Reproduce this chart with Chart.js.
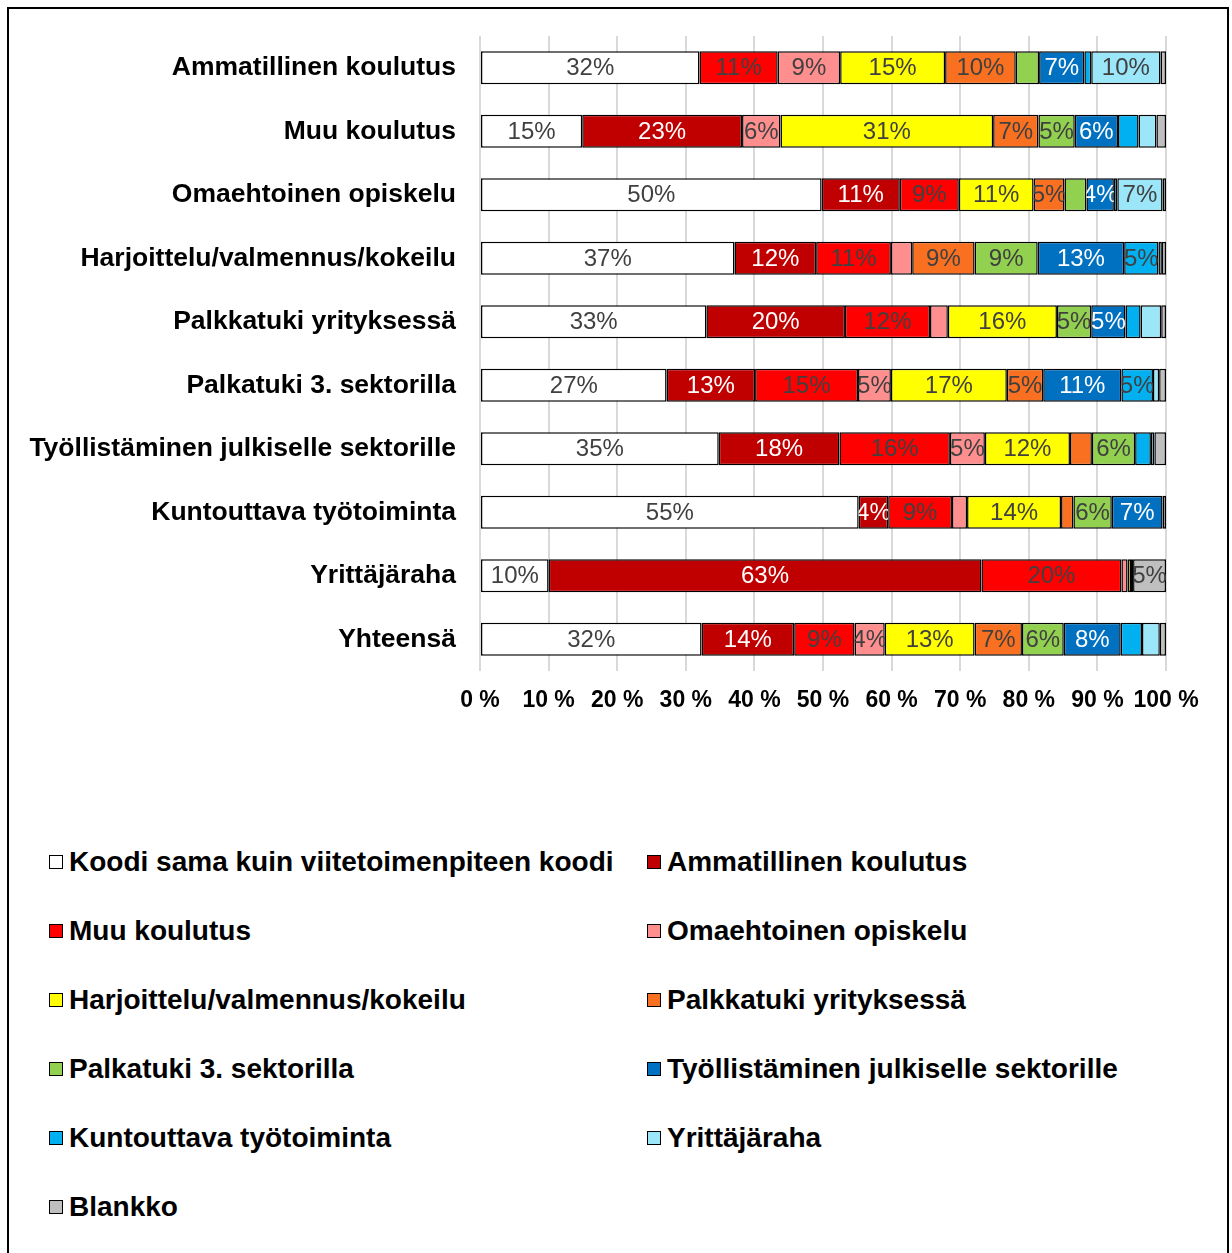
<!DOCTYPE html>
<html>
<head>
<meta charset="utf-8">
<script src="https://cdn.jsdelivr.net/npm/chart.js@4"></script>
<style>
    body { margin: 0; background: #fff; font-family: "Liberation Sans", Arial, sans-serif; }
    #frame { position: absolute; left: 7px; top: 7px; width: 1222px; height: 1270px; border: 2px solid #000; box-sizing: border-box; }
    #chartWrap { position: absolute; left: 0; top: 0; width: 1232px; height: 740px; }
    #legend { position: absolute; left: 0; top: 0; }
    .legend-item { position: absolute; height: 40px; line-height: 40px; font-weight: bold; font-size: 28px; color: #000; white-space: nowrap; }
    .legend-box { position: absolute; left: 0; top: 13px; width: 14px; height: 14px; border: 1.5px solid #000; box-sizing: border-box; }
    .legend-text { position: absolute; left: 20px; top: 0; }
</style>
</head>
<body>
<div id="frame"></div>
<div id="chartWrap"><canvas id="chart" width="1232" height="740"></canvas></div>
<div id="legend"></div>
<script>
// Categories (top to bottom)
const categories = [
    'Ammatillinen koulutus',
    'Muu koulutus',
    'Omaehtoinen opiskelu',
    'Harjoittelu/valmennus/kokeilu',
    'Palkkatuki yrityksessä',
    'Palkatuki 3. sektorilla',
    'Työllistäminen julkiselle sektorille',
    'Kuntouttava työtoiminta',
    'Yrittäjäraha',
    'Yhteensä'
];

const seriesNames = [
    'Koodi sama kuin viitetoimenpiteen koodi',
    'Ammatillinen koulutus',
    'Muu koulutus',
    'Omaehtoinen opiskelu',
    'Harjoittelu/valmennus/kokeilu',
    'Palkkatuki yrityksessä',
    'Palkatuki 3. sektorilla',
    'Työllistäminen julkiselle sektorille',
    'Kuntouttava työtoiminta',
    'Yrittäjäraha',
    'Blankko'
];

// Shares in percent, one value per category
const sameCode      = [32.0, 14.9, 49.8, 37.1, 33.0, 27.2, 34.8, 55.2, 10.0, 32.3];
const vocational    = [0,    23.3, 11.4, 11.9, 20.2, 12.9, 17.6, 4.3,  63.1, 13.5];
const otherTraining = [11.4, 0,    8.6,  10.9, 12.4, 15.0, 16.1, 9.3,  20.4, 8.8];
const selfStudy     = [9.1,  5.6,  0,    3.1,  2.6,  4.8,  5.1,  2.2,  0.9,  4.4];
const coaching      = [15.3, 31.0, 10.9, 0,    15.9, 16.9, 12.4, 13.7, 0.5,  13.1];
const wageCompany   = [10.3, 6.6,  4.5,  9.1,  0,    5.3,  3.2,  1.8,  0,    6.9];
const wageThird     = [3.4,  5.3,  3.2,  9.2,  5.0,  0,    6.3,  5.6,  0,    6.1];
const publicSector  = [6.6,  6.3,  4.0,  12.6, 5.0,  11.4, 0,    7.4,  0,    8.3];
const rehab         = [1.0,  3.0,  0.5,  5.0,  2.2,  4.6,  2.3,  0,    0,    3.1];
const startupGrant  = [10.1, 2.6,  6.6,  0.5,  3.0,  0.9,  0.5,  0,    0.3,  2.6];
const blank         = [0.8,  1.4,  0.5,  0.6,  0.7,  1.0,  1.7,  0.5,  4.8,  0.9];

const seriesValues = [sameCode, vocational, otherTraining, selfStudy, coaching,
    wageCompany, wageThird, publicSector, rehab, startupGrant, blank];

const colors = ['#FFFFFF', '#C00000', '#FF0000', '#FF8F8F', '#FFFF00', '#FA7021',
    '#92D050', '#0070C0', '#00B0F0', '#9CE6FA', '#BFBFBF'];
const labelColors = ['#404040', '#FFFFFF', '#404040', '#404040', '#404040', '#404040',
    '#404040', '#FFFFFF', '#404040', '#404040', '#404040'];

const FONT = '"Liberation Sans", Arial, sans-serif';

// Draw rounded percentages inside the segments, clipped to the segment like Excel
const segmentLabels = {
    id: 'segmentLabels',
    afterDatasetsDraw(chart) {
        const ctx = chart.ctx;
        ctx.save();
        ctx.font = '24px ' + FONT;
        ctx.textAlign = 'center';
        ctx.textBaseline = 'middle';
        chart.data.datasets.forEach((ds, i) => {
            const meta = chart.getDatasetMeta(i);
            meta.data.forEach((bar, j) => {
                const v = ds.data[j];
                if (v < 3.5) return;
                const x0 = Math.min(bar.base, bar.x);
                const w = Math.abs(bar.x - bar.base);
                ctx.save();
                ctx.beginPath();
                ctx.rect(x0, bar.y - bar.height / 2, w, bar.height);
                ctx.clip();
                ctx.fillStyle = labelColors[i];
                ctx.fillText(Math.round(v) + '%', x0 + w / 2, bar.y + 1);
                ctx.restore();
            });
        });
        ctx.restore();
    }
};

const chart = new Chart(document.getElementById('chart'), {
    type: 'bar',
    data: {
        labels: categories,
        datasets: seriesNames.map((name, i) => ({
            label: name,
            data: seriesValues[i],
            backgroundColor: colors[i],
            borderColor: '#000000',
            borderWidth: 1.5,
            borderSkipped: false,
            barPercentage: 0.52,
            categoryPercentage: 1
        }))
    },
    options: {
        indexAxis: 'y',
        responsive: false,
        devicePixelRatio: 1,
        animation: false,
        layout: { padding: { top: 36, right: 66, left: 0, bottom: 0 } },
        plugins: {
            legend: { display: false },
            tooltip: { enabled: false }
        },
        scales: {
            x: {
                stacked: true,
                min: 0,
                max: 100,
                ticks: {
                    stepSize: 10,
                    padding: 16,
                    maxRotation: 0,
                    minRotation: 0,
                    autoSkip: false,
                    color: '#000',
                    font: { family: FONT, size: 23, weight: 'bold' },
                    callback: v => v + ' %'
                },
                grid: { color: '#D9D9D9', lineWidth: 2, drawTicks: false },
                border: { display: false },
                afterFit: s => { s.height = 69; }
            },
            y: {
                stacked: true,
                ticks: {
                    padding: 24,
                    color: '#000',
                    font: { family: FONT, size: 26.5, weight: 'bold' }
                },
                grid: { display: false, drawTicks: false },
                border: { display: false },
                afterFit: s => {
                    s.width = 480;
                    s.paddingTop = 0;
                    s.paddingBottom = 0;
                }
            }
        }
    },
    plugins: [segmentLabels]
});

// Two-column legend below the chart
function buildLegend() {
    const legend = document.getElementById('legend');
    chart.data.datasets.forEach((ds, i) => {
        const col = i % 2;
        const row = Math.floor(i / 2);
        const item = document.createElement('div');
        item.className = 'legend-item';
        item.style.left = (col === 0 ? 49 : 647) + 'px';
        item.style.top = (842 + row * 69) + 'px';
        item.innerHTML = `<span class="legend-box" style="background:${ds.backgroundColor}"></span>` +
            `<span class="legend-text">${ds.label}</span>`;
        legend.appendChild(item);
    });
}

buildLegend();
</script>
</body>
</html>
